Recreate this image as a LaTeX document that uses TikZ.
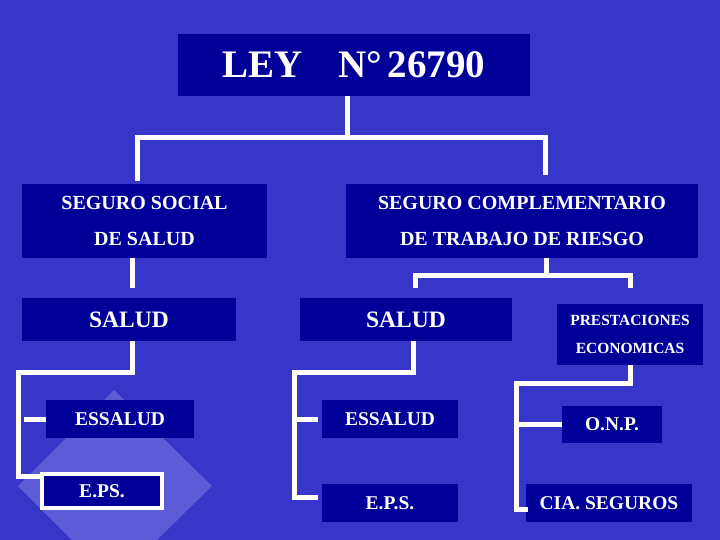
\documentclass[tikz,border=0pt]{standalone}
\usepackage{fontspec}
\setmainfont{Liberation Serif}
\usepackage{xcolor}
\definecolor{fondo}{RGB}{54,54,200}
\definecolor{caja}{RGB}{0,0,153}
\definecolor{rombo}{RGB}{92,92,214}

\begin{document}
\begin{tikzpicture}[x=1pt, y=-1pt, text=white,
		caja/.style={fill=caja, inner sep=0pt, align=center},
		link/.style={draw=white, line width=5pt}]
		\fill[fondo] (0,0) rectangle (720,540);
		\useasboundingbox (0,0) rectangle (720,540);
		\begin{scope}
			\clip (0,0) rectangle (720,540);
			\fill[rombo] (114,390) -- (212,486) -- (114,582) -- (18,486) -- cycle;
		\end{scope}
		\node[caja, minimum width=352pt, minimum height=62pt, font=\fontsize{39}{39}\selectfont\bfseries] (ley) at (354,65) {LEY\hspace{0.9em}N°\hspace{0.15em}26790};
		\node[caja, minimum width=245pt, minimum height=74pt, font=\fontsize{20}{36}\selectfont\bfseries] (ssal) at (144.5,221) {SEGURO SOCIAL\\DE SALUD};
		\node[caja, minimum width=352pt, minimum height=74pt, font=\fontsize{20}{36}\selectfont\bfseries] (scomp) at (522,221) {SEGURO COMPLEMENTARIO\\DE TRABAJO DE RIESGO};
		\node[caja, minimum width=214pt, minimum height=43pt, font=\fontsize{23.5}{24}\selectfont\bfseries] (salud1) at (129,319.5) {SALUD};
		\node[caja, minimum width=212pt, minimum height=43pt, font=\fontsize{23.5}{24}\selectfont\bfseries] (salud2) at (406,319.5) {SALUD};
		\node[caja, minimum width=146pt, minimum height=61pt, font=\fontsize{15.5}{28}\selectfont\bfseries] (prest) at (630,334.5) {PRESTACIONES\\ECONOMICAS};
		\node[caja, minimum width=148pt, minimum height=38pt, font=\fontsize{19.5}{20}\selectfont\bfseries] (ess1) at (120,419) {ESSALUD};
		\node[caja, draw=white, line width=4pt, minimum width=120pt, minimum height=34pt, font=\fontsize{19.5}{20}\selectfont\bfseries] (eps1) at (102,491) {E.PS.};
		\node[caja, minimum width=136pt, minimum height=38pt, font=\fontsize{19.5}{20}\selectfont\bfseries] (ess2) at (390,419) {ESSALUD};
		\node[caja, minimum width=136pt, minimum height=38pt, font=\fontsize{19.5}{20}\selectfont\bfseries] (eps2) at (390,503) {E.P.S.};
		\node[caja, minimum width=100pt, minimum height=37pt, font=\fontsize{19.5}{20}\selectfont\bfseries] (onp) at (612,424.5) {O.N.P.};
		\node[caja, minimum width=166pt, minimum height=38pt, font=\fontsize{19.5}{20}\selectfont\bfseries] (cia) at (609,503) {CIA. SEGUROS};
		\coordinate (spine1) at (18.5,372);
		\coordinate (spine2) at (294.5,372);
		\coordinate (spine3) at (516,383.5);
		% tronco
		\draw[link] ([xshift=-6.5pt]ley.south) -- ++(0,41.5) -| ([xshift=-7pt,yshift=3pt]ssal.north);
		\draw[link] ([xshift=-6.5pt]ley.south) -- ++(0,41.5) -| ([xshift=23.5pt,yshift=9pt]scomp.north);
		\draw[link] ([xshift=-12.5pt]ssal.south) -- ([xshift=3pt,yshift=10pt]salud1.north);
		\draw[link] ([xshift=24.5pt]scomp.south) -- ++(0,17.5) -| ([xshift=9pt,yshift=10pt]salud2.north);
		\draw[link] ([xshift=24.5pt]scomp.south) -- ++(0,17.5) -| ([yshift=16pt]prest.north);
		% ramas
		\draw[link] ([xshift=3pt]salud1.south) |- (spine1) |- ([yshift=14.5pt]eps1.west);
		\draw[link] ([xshift=-22pt]ess1.west) -- (ess1.west);
		\draw[link] ([xshift=7.5pt]salud2.south) |- (spine2) |- ([xshift=-4pt,yshift=5.5pt]eps2.west);
		\draw[link] (spine2 |- ess2.west) -- ([xshift=-4pt]ess2.west);
		\draw[link] (prest.south) |- (spine3) |- ([xshift=2pt,yshift=-6.5pt]cia.west);
		\draw[link] (spine3 |- onp.west) -- (onp.west);
	\end{tikzpicture}
\end{document}
